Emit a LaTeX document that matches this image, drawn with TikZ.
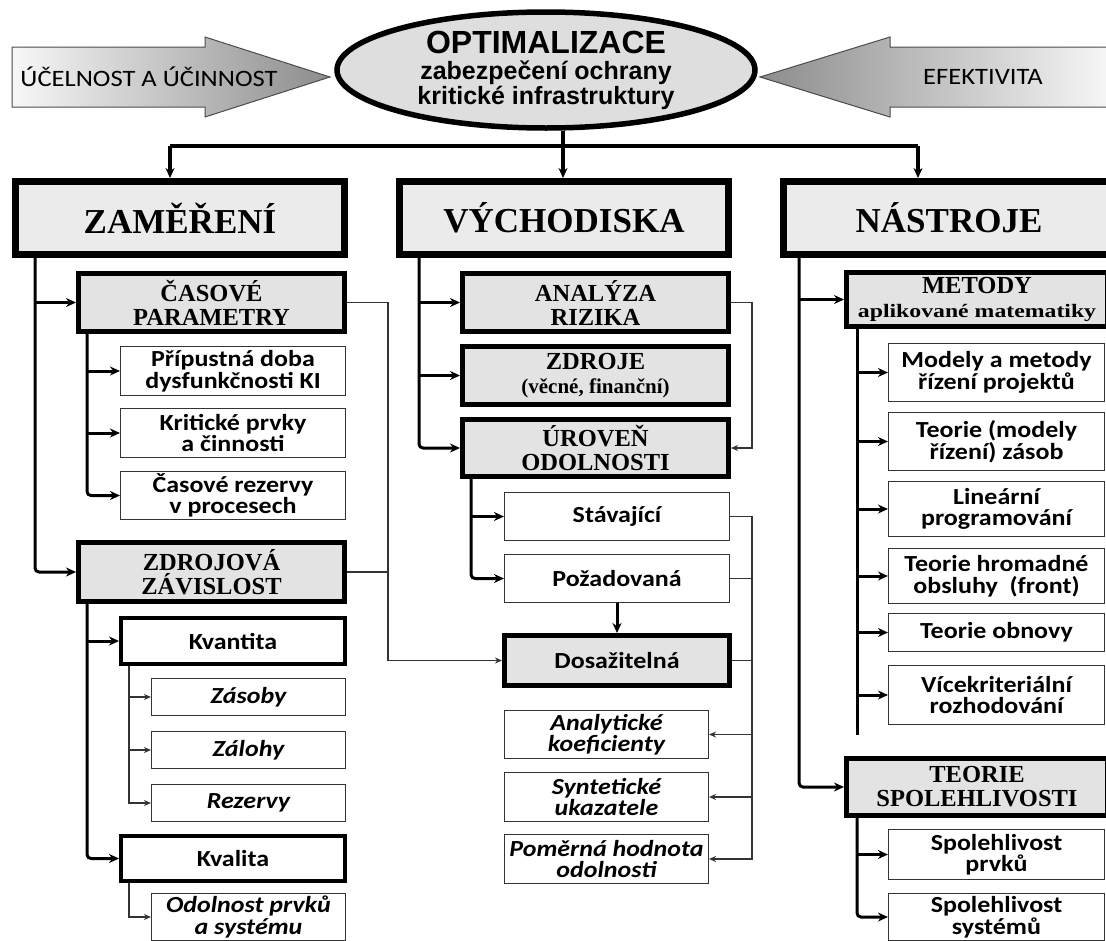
\documentclass[tikz,border=0pt]{standalone}
\usepackage{fontspec}
\usepackage{graphicx}
\usetikzlibrary{shapes.geometric,arrows.meta}
\setmainfont{Liberation Serif}
\newfontfamily\sansC{Carlito}[FakeStretch=1.13]
\newfontfamily\arialf{Liberation Sans}
\newcommand\bx[8][0.6]{\node[#3, minimum width={#6-#4-2*#1}, minimum height={#7-#5-2*#1}] (#2) at ({(#4+#6)/2},{(#5+#7)/2}) {#8};}
\tikzset{
 bigbox/.style={draw, line width=7pt, fill=black!8, inner sep=0pt, font=\bfseries\fontsize{35}{38}\selectfont},
 midbox/.style={draw, line width=5pt, fill=black!11, inner sep=0pt, align=center, font=\bfseries\fontsize{24.5}{24}\selectfont},
 qbox/.style={draw, line width=4pt, fill=white, inner sep=0pt, align=center, font=\sansC\bfseries\fontsize{23}{21.5}\selectfont},
 leaf/.style={draw=black!80, line width=1.3pt, fill=white, inner sep=0pt, align=center, font=\sansC\bfseries\fontsize{23}{21.5}\selectfont},
 ileaf/.style={leaf, font=\sansC\bfseries\itshape\fontsize{23}{21.5}\selectfont},
 bus/.style={line width=3.5pt},
 branch/.style={line width=3pt},
 fine/.style={line width=1.3pt, draw=black!80},
 tipB/.style={-{Stealth[length=10pt,width=9pt]}},
 tipS/.style={-{Stealth[length=7pt,width=6pt]}},
 bigarrow/.style={draw=black!70, line width=1pt},
 arrtext/.style={font=\sansC\fontsize{23.5}{26}\selectfont},
}
\begin{document}
\begin{tikzpicture}[x=1pt,y=-1pt]
\useasboundingbox (0,0) rectangle (1106,940);
\fill[white] (0,0) rectangle (1106,940);
% side arrows
\shade[bigarrow, left color=black!3, right color=black!45] (12,47) -- (205,47) -- (205,37) -- (330,77) -- (205,117) -- (205,107) -- (12,107) -- cycle;
\shade[bigarrow, left color=black!45, right color=black!3] (1112,47) -- (890,47) -- (890,37) -- (760,77) -- (890,117) -- (890,107) -- (1112,107) -- cycle;
\node[arrtext] (t1) at (149,77) {ÚČELNOST A ÚČINNOST};
\node[arrtext] (t2) at (983,77) {EFEKTIVITA};
% ellipse
\node[ellipse, draw, line width=5.5pt, fill=black!13, minimum width=418pt, minimum height=116pt, inner sep=0pt, align=center, font=\arialf\bfseries\fontsize{25}{23.5}\selectfont] (ell) at (546,70) {{\fontsize{32}{30}\selectfont OPTIMALIZACE}\\[3pt]zabezpečení ochrany\\kritické infrastruktury};
% big boxes
\bx[3.5]{zam}{bigbox}{12}{178}{348}{258}{ZAMĚŘENÍ}
\bx[3.5]{vych}{bigbox}{396}{178}{732}{258}{VÝCHODISKA}
\bx[3.5]{nas}{bigbox}{780}{178}{1118}{258}{NÁSTROJE}
% mid boxes
\bx[2.5]{cas}{midbox}{76}{271}{347}{334}{ČASOVÉ\\PARAMETRY}
\bx[2.5]{zdz}{midbox}{76}{540}{347}{604}{ZDROJOVÁ\\ZÁVISLOST}
\bx[2.5]{ana}{midbox}{460}{271}{731}{334}{ANALÝZA\\RIZIKA}
\bx[2.5]{zdr}{midbox}{460}{344}{731}{407}{ZDROJE\\{\fontsize{21}{22}\selectfont (věcné, finanční)}}
\bx[2.5]{uro}{midbox}{460}{417}{731}{479}{ÚROVEŇ\\ODOLNOSTI}
\bx[2.5]{met}{midbox}{844}{270}{1110}{329}{METODY\\{\fontsize{19}{20}\selectfont\scalebox{1.25}[1]{aplikované matematiky}}}
\bx[2.5]{teo}{midbox}{844}{756}{1110}{818}{TEORIE\\SPOLEHLIVOSTI}
\bx[2.5]{dos}{midbox, font=\sansC\bfseries\fontsize{23}{21}\selectfont}{502}{633}{732}{688}{Dosažitelná}
% quantity/quality
\bx[2]{kvn}{qbox}{119}{616}{347}{666}{Kvantita}
\bx[2]{kva}{qbox}{119}{834}{347}{883}{Kvalita}
% leaves left
\bx{p1}{leaf}{120}{346}{346}{396}{Přípustná doba\\dysfunkčnosti KI}
\bx{p2}{leaf}{120}{408}{346}{458}{Kritické prvky\\a činnosti}
\bx{p3}{leaf}{120}{471}{346}{520}{Časové rezervy\\v procesech}
\bx{zas}{ileaf}{151}{678}{346}{716}{Zásoby}
\bx{zal}{ileaf}{151}{731}{346}{769}{Zálohy}
\bx{rez}{ileaf}{151}{784}{346}{822}{Rezervy}
\bx{odo}{ileaf}{151}{893}{346}{941}{Odolnost prvků\\a systému}
% leaves middle
\bx{sta}{leaf}{504}{492}{730}{541}{Stávající}
\bx{poz}{leaf}{504}{554}{730}{603}{Požadovaná}
\bx{ank}{ileaf}{504}{710}{709}{759}{Analytické\\koeficienty}
\bx{syn}{ileaf}{504}{772}{709}{822}{Syntetické\\ukazatele}
\bx{pom}{ileaf}{504}{834}{709}{884}{Poměrná hodnota\\odolnosti}
% leaves right
\bx{m1}{leaf}{888}{343}{1105}{402}{Modely a metody\\řízení projektů}
\bx{m2}{leaf}{888}{412}{1105}{471}{Teorie (modely\\řízení) zásob}
\bx{m3}{leaf}{888}{481}{1105}{537}{Lineární\\programování}
\bx{m4}{leaf}{888}{548}{1105}{604}{Teorie hromadné\\obsluhy\ \ (front)}
\bx{m5}{leaf}{888}{613}{1105}{652}{Teorie obnovy}
\bx{m6}{leaf}{888}{665}{1105}{725}{Vícekriteriální\\rozhodování}
\bx{s1}{leaf}{888}{829}{1105}{880}{Spolehlivost\\prvků}
\bx{s2}{leaf}{888}{893}{1105}{941}{Spolehlivost\\systémů}
% top bus
\coordinate (bL) at (170,146);
\coordinate (bR) at (918,146);
\coordinate (bM) at (563,146);
\draw[bus] (bL) -- (bR);
\draw[bus,tipB] (bL) -- (bL |- zam.north);
\draw[bus,tipB] (bR) -- (bR |- nas.north);
\draw[bus,tipB] (ell.south -| bM) -- (bM |- vych.north);
% left column
\coordinate (zx) at (35,0);
\draw[branch,tipB,rounded corners=4pt] (zam.south -| zx) |- (zdz.west);
\draw[branch,tipB] (zx |- cas.west) -- (cas.west);
\coordinate (cx) at (87,0);
\draw[branch,tipB,rounded corners=4pt] (cas.south -| cx) |- (p3.west);
\draw[branch,tipB] (cx |- p1.west) -- (p1.west);
\draw[branch,tipB] (cx |- p2.west) -- (p2.west);
\draw[branch,tipB,rounded corners=4pt] (zdz.south -| cx) |- (kva.west);
\draw[branch,tipB] (cx |- kvn.west) -- (kvn.west);
\coordinate (kx) at (129,0);
\draw[fine,tipS] (kvn.south -| kx) |- (rez.west);
\draw[fine,tipS] (kx |- zas.west) -- (zas.west);
\draw[fine,tipS] (kx |- zal.west) -- (zal.west);
\draw[fine,tipS] (kva.south -| kx) |- (odo.west);
% cross link
\coordinate (lx) at (388,0);
\draw[fine,tipS] (cas.east) -| (lx |- dos.west) -- (dos.west);
\draw[fine] (zdz.east) -- (lx |- zdz.east);
% middle column
\coordinate (vx) at (419,0);
\draw[branch,tipB,rounded corners=4pt] (vych.south -| vx) |- (uro.west);
\draw[branch,tipB] (vx |- ana.west) -- (ana.west);
\draw[branch,tipB] (vx |- zdr.west) -- (zdr.west);
\coordinate (rx) at (752,0);
\draw[fine,tipS] (ana.east) -| (rx |- uro.east) -- (uro.east);
\coordinate (ux) at (471,0);
\draw[branch,tipB,rounded corners=4pt] (uro.south -| ux) |- (poz.west);
\draw[branch,tipB] (ux |- sta.west) -- (sta.west);
\draw[branch,tipB] (poz.south) -- (dos.north);
\draw[fine,tipS] (sta.east) -| (rx |- pom.east) -- (pom.east);
\draw[fine] (poz.east) -- (rx |- poz.east);
\draw[fine] (dos.east) -- (rx |- dos.east);
\draw[fine,tipS] (rx |- ank.east) -- (ank.east);
\draw[fine,tipS] (rx |- syn.east) -- (syn.east);
% right column
\coordinate (nx) at (799,0);
\draw[branch,tipB,rounded corners=4pt] (nas.south -| nx) |- (teo.west);
\draw[branch,tipB] (nx |- met.west) -- (met.west);
\coordinate (mx) at (857,0);
\coordinate (mend) at (857,735);
\draw[branch] (met.south -| mx) -- (mend);
\foreach \n in {m1,m2,m3,m4,m5,m6} \draw[branch,tipB] (mx |- \n.west) -- (\n.west);
\draw[branch,tipB,rounded corners=4pt] (teo.south -| mx) |- (s2.west);
\draw[branch,tipB] (mx |- s1.west) -- (s1.west);
\end{tikzpicture}
\end{document}
